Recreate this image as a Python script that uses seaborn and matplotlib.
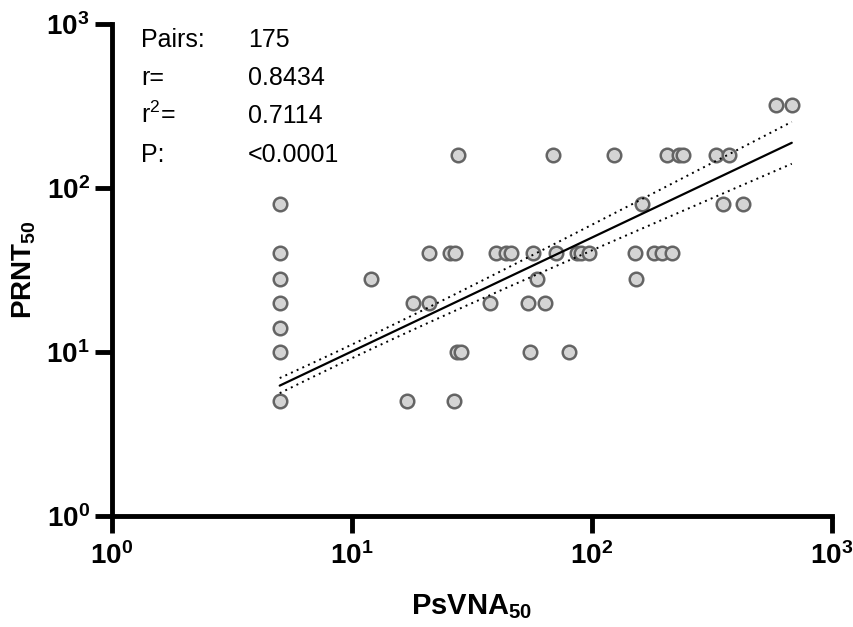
import numpy as np
import pandas as pd
import seaborn as sns
import matplotlib
matplotlib.use("Agg")
import matplotlib.pyplot as plt

# titers (overlapping points only listed once)
psvna = [5, 5, 5, 5, 5, 5, 5,
         12, 17, 18, 21, 21, 25.6, 27, 26.7, 27.3, 28.6, 27.7,
         37.6, 40, 44, 46, 54, 55, 57, 59, 64, 69, 71, 80, 87, 90, 97,
         124, 151, 152, 161, 181, 196, 205, 215, 231, 239,
         329, 351, 371, 427, 584, 680]
prnt = [80, 40, 28, 20, 14, 10, 5,
        28, 5, 20, 40, 20, 40, 40, 5, 10, 10, 160,
        20, 40, 40, 40, 20, 10, 40, 28, 20, 160, 40, 10, 40, 40, 40,
        160, 40, 28, 80, 40, 40, 160, 40, 160, 160,
        160, 80, 160, 80, 320, 320]

# log-log fit and its 95% band
fit_slope = 0.694
fit_intercept = 0.310
band_a, band_b, band_center = 0.0415, 0.066, 1.0

stat_names = ["Pairs:", "r=", "r$^{2}$=", "P:"]
stat_values = ["175", "0.8434", "0.7114", "<0.0001"]

ticks = [1, 10, 100, 1000]
tick_labels = [r"$\mathbf{10^{%d}}$" % i for i in range(4)]

sns.set_theme(style="ticks")
plt.rcParams["font.family"] = ["Liberation Sans", "DejaVu Sans"]
plt.rcParams["mathtext.fontset"] = "custom"
plt.rcParams["mathtext.rm"] = "Liberation Sans"
plt.rcParams["mathtext.bf"] = "Liberation Sans:bold"
plt.rcParams["mathtext.it"] = "Liberation Sans:italic"

df = pd.DataFrame({"PsVNA": psvna, "PRNT": prnt})

fig = plt.figure(figsize=(8.54, 6.27), dpi=100)
ax = fig.add_axes([0.1311, 0.177, 0.8431, 0.7847])

sns.scatterplot(data=df, x="PsVNA", y="PRNT", ax=ax, s=95,
                color="#d4d4d4", edgecolor="#646464", linewidth=1.8, zorder=3)

lx = np.linspace(np.log10(min(psvna)), np.log10(max(psvna)), 200)
ly = fit_intercept + fit_slope * lx
half = np.sqrt(band_a ** 2 + band_b ** 2 * (lx - band_center) ** 2)
ax.plot(10 ** lx, 10 ** ly, color="black", lw=1.6, zorder=4)
ax.plot(10 ** lx, 10 ** (ly + half), color="black", lw=1.4, ls=(0, (1, 2.2)), zorder=4)
ax.plot(10 ** lx, 10 ** (ly - half), color="black", lw=1.4, ls=(0, (1, 2.2)), zorder=4)

ax.set_xscale("log")
ax.set_yscale("log")
ax.set_xlim(1, 1000)
ax.set_ylim(1, 1000)
ax.set_xticks(ticks)
ax.set_xticklabels(tick_labels)
ax.set_yticks(ticks)
ax.set_yticklabels(tick_labels)
ax.minorticks_off()
ax.tick_params(axis="both", which="major", length=12, width=3.5,
               labelsize=20, color="black", labelcolor="black")
ax.tick_params(axis="x", pad=7)
ax.tick_params(axis="y", pad=4)

sns.despine(ax=ax)
for side in ["left", "bottom"]:
    ax.spines[side].set_linewidth(3.5)
    ax.spines[side].set_color("black")
    ax.spines[side].set_capstyle("projecting")

ax.set_xlabel(r"$\mathbf{PsVNA_{50}}$", fontsize=21, labelpad=16, color="black")
ax.set_ylabel(r"$\mathbf{PRNT_{50}}$", fontsize=20, labelpad=6, color="black")

rows_y = [0.954, 0.876, 0.799, 0.720]
for name, value, yy in zip(stat_names, stat_values, rows_y):
    ax.text(0.041, yy, name, transform=ax.transAxes, fontsize=18, va="baseline", color="black")
    ax.text(0.189, yy, value, transform=ax.transAxes, fontsize=18, va="baseline", color="black")

fig.savefig("out.png", dpi=100)
